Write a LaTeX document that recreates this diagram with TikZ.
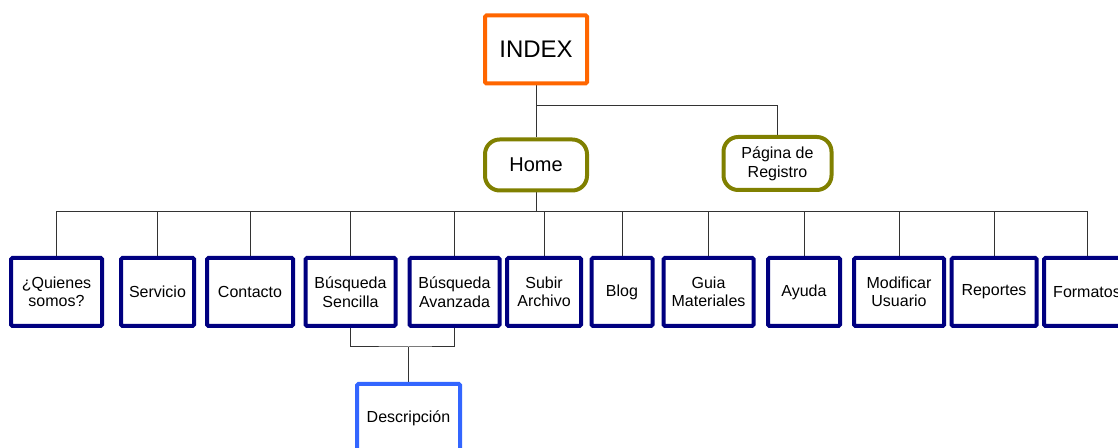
\documentclass[tikz,border=0pt]{standalone}
\usepackage{fontspec}
\setmainfont{Liberation Sans}
\usepackage{tikz}
\usetikzlibrary{backgrounds,positioning}
\definecolor{naranja}{RGB}{255,102,0}
\definecolor{oliva}{RGB}{128,128,0}
\definecolor{marino}{RGB}{0,0,128}
\definecolor{azul}{RGB}{51,102,255}

\begin{document}
\begin{tikzpicture}[x=0.75pt,y=-0.75pt,
  raiz/.style={draw=naranja, line width=3pt, fill=white, rounded corners=1pt,
    minimum width=76.5pt, minimum height=51pt, font=\fontsize{18}{20}\selectfont},
  menu/.style={draw=oliva, line width=3pt, fill=white, rounded corners=11pt,
    minimum height=38.25pt, align=center},
  hoja/.style={draw=marino, line width=3pt, fill=white, rounded corners=1pt,
    minimum height=51pt, align=center, inner sep=1pt, font=\fontsize{12}{13.8}\selectfont},
  enlace/.style={draw=black!80, line width=0.75pt}]
\useasboundingbox (0,0) rectangle (1118,448);
\node[raiz] (I) at (536,49.5) {INDEX};
\node[menu, minimum width=76.5pt, font=\fontsize{15}{17}\selectfont] (H) at (536,165) {Home};
\node[menu, minimum width=81pt, minimum height=39.75pt, font=\fontsize{12}{14}\selectfont] (R) at (777.5,163.5) {Página de\\Registro};
\node[hoja, minimum width=68.25pt] (Q) at (56.5,292) {¿Quienes\\somos?};
\node[hoja, minimum width=54.75pt] (S) at (157.5,292) {Servicio};
\node[hoja, minimum width=64.5pt] (C) at (250,292) {Contacto};
\node[hoja, minimum width=67.5pt] (BS) at (350.5,292) {Búsqueda\\Sencilla};
\node[hoja, minimum width=67.5pt] (BA) at (454.5,292) {Búsqueda\\Avanzada};
\node[hoja, minimum width=55.5pt] (SA) at (544,292) {Subir\\Archivo};
\node[hoja, minimum width=45.75pt] (B) at (622,292) {Blog};
\node[hoja, minimum width=67.5pt] (G) at (708.5,292) {Guia\\Materiales};
\node[hoja, minimum width=54pt] (A) at (804,292) {Ayuda};
\node[hoja, minimum width=67.5pt] (MU) at (899,292) {Modificar\\Usuario};
\node[hoja, minimum width=63.75pt] (RE) at (994,292) {Reportes};
\node[hoja, minimum width=64.5pt] (F) at (1087,292) {Formatos};
\node[hoja, draw=azul, minimum width=77.25pt] (D) at (408.5,418) {Descripción};
\coordinate (split) at (536,106);
\coordinate (bus) at (536,212);
\coordinate (join) at (408.5,347);
\begin{scope}[on background layer]
\path[enlace] (I.south) -- (H.north);
\path[enlace] (split) -| (R.north);
\path[enlace] (H.south) -- (bus);
\foreach \n in {Q,S,C,BS,BA,SA,B,G,A,MU,RE,F}
  \path[enlace] (bus) -| (\n.north);
\path[enlace] (BS.south) |- (join) -| (BA.south);
\path[enlace] (join) -- (D.north);
\end{scope}
\end{tikzpicture}
\end{document}
